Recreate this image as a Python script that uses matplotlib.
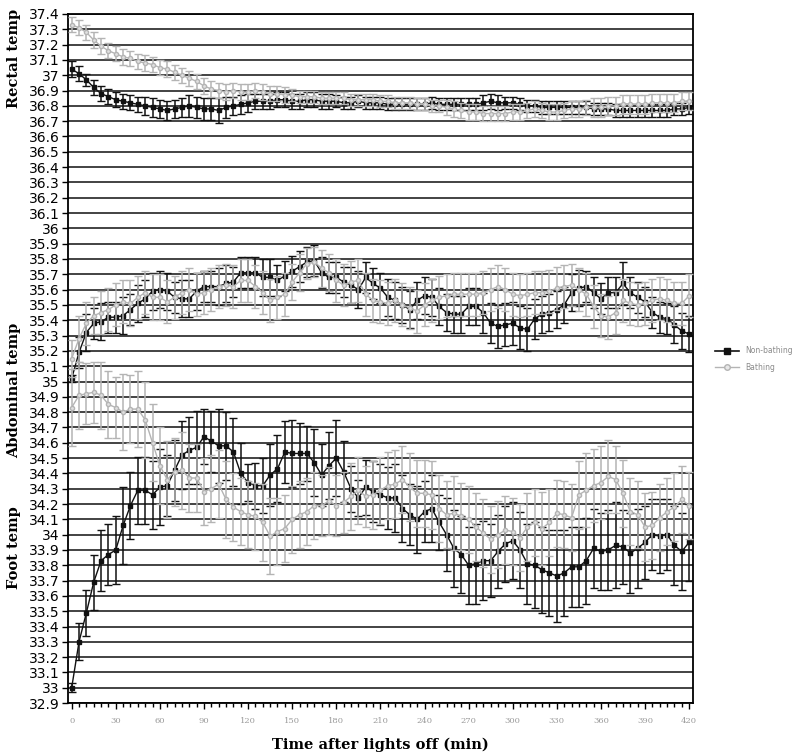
import matplotlib
matplotlib.use("Agg")
import matplotlib.pyplot as plt
from matplotlib.lines import Line2D
from matplotlib.ticker import MultipleLocator, FuncFormatter

# minutes after lights off, one sample every 5 min
minutes = list(range(0, 425, 5))

rectal_non = [37.04, 37.01, 36.97, 36.92, 36.88, 36.86,
              36.84, 36.83, 36.82, 36.81, 36.80, 36.79,
              36.78, 36.77, 36.78, 36.79, 36.80, 36.79,
              36.78, 36.78, 36.77, 36.79, 36.80, 36.81,
              36.82, 36.83, 36.83, 36.83, 36.84, 36.84,
              36.83, 36.83, 36.84, 36.84, 36.83, 36.83,
              36.83, 36.82, 36.82, 36.83, 36.82, 36.82,
              36.82, 36.81, 36.81, 36.81, 36.81, 36.81,
              36.81, 36.82, 36.81, 36.81, 36.81, 36.81,
              36.81, 36.81, 36.82, 36.83, 36.82, 36.82,
              36.82, 36.81, 36.80, 36.80, 36.79, 36.79,
              36.79, 36.79, 36.79, 36.79, 36.79, 36.78,
              36.78, 36.78, 36.77, 36.77, 36.77, 36.77,
              36.77, 36.77, 36.77, 36.77, 36.78, 36.78,
              36.79]
rectal_non_err = [0.05, 0.05, 0.04, 0.05, 0.05, 0.05,
                  0.05, 0.05, 0.05, 0.05, 0.06, 0.06,
                  0.06, 0.06, 0.06, 0.06, 0.07, 0.07,
                  0.07, 0.07, 0.08, 0.07, 0.06, 0.06,
                  0.06, 0.05, 0.05, 0.05, 0.05, 0.05,
                  0.05, 0.05, 0.05, 0.05, 0.05, 0.05,
                  0.04, 0.04, 0.04, 0.04, 0.04, 0.04,
                  0.04, 0.04, 0.04, 0.04, 0.04, 0.04,
                  0.04, 0.04, 0.04, 0.04, 0.04, 0.04,
                  0.04, 0.04, 0.05, 0.05, 0.05, 0.04,
                  0.04, 0.04, 0.04, 0.04, 0.04, 0.04,
                  0.04, 0.04, 0.04, 0.04, 0.04, 0.04,
                  0.04, 0.04, 0.04, 0.04, 0.04, 0.04,
                  0.04, 0.04, 0.04, 0.04, 0.04, 0.04,
                  0.04]

rectal_bath = [37.33, 37.31, 37.28, 37.23, 37.19, 37.16,
               37.14, 37.12, 37.11, 37.09, 37.08, 37.07,
               37.05, 37.04, 37.02, 37.00, 36.98, 36.96,
               36.93, 36.91, 36.90, 36.89, 36.90, 36.89,
               36.89, 36.90, 36.89, 36.88, 36.88, 36.87,
               36.87, 36.86, 36.86, 36.86, 36.85, 36.85,
               36.85, 36.85, 36.84, 36.84, 36.84, 36.84,
               36.83, 36.83, 36.82, 36.82, 36.82, 36.81,
               36.81, 36.80, 36.80, 36.79, 36.78, 36.77,
               36.76, 36.76, 36.75, 36.75, 36.75, 36.75,
               36.76, 36.76, 36.77, 36.78, 36.77, 36.76,
               36.76, 36.77, 36.78, 36.78, 36.79, 36.79,
               36.79, 36.80, 36.80, 36.81, 36.81, 36.81,
               36.81, 36.82, 36.82, 36.82, 36.82, 36.83,
               36.83]
rectal_bath_err = [0.05, 0.05, 0.05, 0.05, 0.05, 0.05,
                   0.05, 0.05, 0.05, 0.05, 0.05, 0.05,
                   0.05, 0.05, 0.05, 0.05, 0.05, 0.05,
                   0.05, 0.05, 0.05, 0.05, 0.05, 0.05,
                   0.05, 0.05, 0.05, 0.05, 0.05, 0.05,
                   0.04, 0.04, 0.04, 0.04, 0.04, 0.04,
                   0.04, 0.04, 0.04, 0.04, 0.04, 0.04,
                   0.04, 0.04, 0.04, 0.04, 0.04, 0.04,
                   0.04, 0.04, 0.04, 0.05, 0.05, 0.05,
                   0.05, 0.05, 0.05, 0.05, 0.05, 0.05,
                   0.05, 0.05, 0.05, 0.05, 0.05, 0.05,
                   0.05, 0.05, 0.05, 0.05, 0.05, 0.06,
                   0.06, 0.06, 0.06, 0.06, 0.06, 0.06,
                   0.06, 0.06, 0.06, 0.06, 0.06, 0.06,
                   0.06]

abdo_non = [35.02, 35.19, 35.32, 35.38, 35.39, 35.42,
            35.42, 35.43, 35.47, 35.51, 35.54, 35.59,
            35.60, 35.59, 35.55, 35.54, 35.54, 35.59,
            35.62, 35.62, 35.62, 35.64, 35.65, 35.71,
            35.71, 35.71, 35.68, 35.68, 35.66, 35.69,
            35.72, 35.75, 35.78, 35.79, 35.71, 35.68,
            35.68, 35.65, 35.63, 35.60, 35.68, 35.64,
            35.61, 35.55, 35.53, 35.50, 35.47, 35.53,
            35.56, 35.55, 35.49, 35.45, 35.44, 35.44,
            35.49, 35.49, 35.45, 35.38, 35.36, 35.37,
            35.38, 35.35, 35.34, 35.41, 35.44, 35.45,
            35.47, 35.50, 35.58, 35.61, 35.62, 35.58,
            35.54, 35.58, 35.58, 35.64, 35.58, 35.55,
            35.52, 35.45, 35.42, 35.41, 35.37, 35.33,
            35.31]
abdo_non_err = [0.02, 0.10, 0.12, 0.10, 0.12, 0.10,
                0.10, 0.12, 0.10, 0.12, 0.12, 0.12,
                0.12, 0.12, 0.10, 0.12, 0.12, 0.12,
                0.10, 0.10, 0.12, 0.12, 0.10, 0.10,
                0.10, 0.10, 0.12, 0.12, 0.10, 0.10,
                0.10, 0.10, 0.10, 0.10, 0.10, 0.10,
                0.10, 0.10, 0.12, 0.12, 0.10, 0.10,
                0.10, 0.12, 0.12, 0.12, 0.12, 0.12,
                0.12, 0.12, 0.12, 0.12, 0.12, 0.12,
                0.12, 0.12, 0.13, 0.13, 0.14, 0.14,
                0.14, 0.14, 0.14, 0.13, 0.12, 0.12,
                0.12, 0.12, 0.12, 0.12, 0.10, 0.10,
                0.10, 0.10, 0.10, 0.14, 0.10, 0.10,
                0.10, 0.10, 0.10, 0.10, 0.12, 0.12,
                0.12]

abdo_bath = [35.15, 35.28, 35.38, 35.43, 35.45, 35.47,
             35.50, 35.52, 35.51, 35.55, 35.58, 35.55,
             35.55, 35.52, 35.55, 35.58, 35.60, 35.57,
             35.58, 35.60, 35.62, 35.63, 35.62, 35.66,
             35.66, 35.62, 35.58, 35.53, 35.55, 35.57,
             35.65, 35.71, 35.77, 35.78, 35.74, 35.71,
             35.66, 35.63, 35.65, 35.66, 35.57, 35.53,
             35.52, 35.51, 35.53, 35.50, 35.48, 35.46,
             35.50, 35.53, 35.55, 35.56, 35.57, 35.57,
             35.57, 35.57, 35.58, 35.60, 35.62, 35.60,
             35.57, 35.56, 35.57, 35.58, 35.58, 35.59,
             35.61, 35.62, 35.63, 35.60, 35.57, 35.49,
             35.43, 35.42, 35.45, 35.53, 35.51, 35.50,
             35.51, 35.53, 35.54, 35.53, 35.51, 35.51,
             35.56]
abdo_bath_err = [0.12, 0.15, 0.14, 0.12, 0.14, 0.14,
                 0.14, 0.14, 0.15, 0.14, 0.14, 0.15,
                 0.15, 0.14, 0.14, 0.14, 0.14, 0.14,
                 0.14, 0.14, 0.14, 0.14, 0.14, 0.14,
                 0.14, 0.14, 0.14, 0.14, 0.14, 0.14,
                 0.12, 0.12, 0.10, 0.10, 0.12, 0.12,
                 0.14, 0.14, 0.14, 0.14, 0.14, 0.14,
                 0.14, 0.14, 0.14, 0.14, 0.14, 0.14,
                 0.14, 0.14, 0.14, 0.14, 0.14, 0.14,
                 0.14, 0.14, 0.14, 0.14, 0.14, 0.14,
                 0.14, 0.14, 0.14, 0.14, 0.14, 0.14,
                 0.14, 0.14, 0.14, 0.14, 0.14, 0.14,
                 0.14, 0.14, 0.14, 0.14, 0.14, 0.14,
                 0.14, 0.14, 0.14, 0.14, 0.14, 0.14,
                 0.14]

foot_non = [33.00, 33.30, 33.49, 33.69, 33.83, 33.87,
            33.90, 34.06, 34.19, 34.29, 34.29, 34.26,
            34.31, 34.32, 34.42, 34.52, 34.55, 34.57,
            34.64, 34.61, 34.58, 34.58, 34.54, 34.40,
            34.34, 34.32, 34.32, 34.39, 34.43, 34.54,
            34.53, 34.53, 34.53, 34.47, 34.39, 34.45,
            34.50, 34.41, 34.30, 34.24, 34.31, 34.28,
            34.26, 34.24, 34.24, 34.17, 34.13, 34.10,
            34.15, 34.17, 34.08, 34.00, 33.91, 33.87,
            33.80, 33.81, 33.83, 33.83, 33.89, 33.94,
            33.96, 33.90, 33.81, 33.80, 33.77, 33.75,
            33.73, 33.75, 33.79, 33.79, 33.83, 33.91,
            33.89, 33.90, 33.93, 33.92, 33.88, 33.91,
            33.95, 34.00, 33.99, 34.00, 33.93, 33.89,
            33.95]
foot_non_err = [0.03, 0.12, 0.15, 0.18, 0.20, 0.20,
                0.22, 0.25, 0.22, 0.22, 0.22, 0.22,
                0.25, 0.20, 0.20, 0.22, 0.22, 0.24,
                0.18, 0.20, 0.24, 0.22, 0.22, 0.20,
                0.12, 0.15, 0.18, 0.20, 0.22, 0.20,
                0.22, 0.20, 0.18, 0.22, 0.20, 0.22,
                0.25, 0.20, 0.15, 0.12, 0.18, 0.20,
                0.20, 0.20, 0.22, 0.22, 0.20, 0.22,
                0.20, 0.22, 0.18, 0.24, 0.25, 0.25,
                0.25, 0.26, 0.26, 0.24, 0.24, 0.25,
                0.25, 0.25, 0.26, 0.28, 0.28, 0.28,
                0.30, 0.28, 0.26, 0.26, 0.28, 0.26,
                0.25, 0.26, 0.28, 0.24, 0.26, 0.26,
                0.24, 0.23, 0.24, 0.23, 0.26, 0.25,
                0.25]

foot_bath = [34.83, 34.91, 34.92, 34.93, 34.91, 34.85,
             34.83, 34.80, 34.82, 34.82, 34.75, 34.60,
             34.45, 34.36, 34.41, 34.42, 34.37, 34.37,
             34.28, 34.30, 34.33, 34.23, 34.18, 34.15,
             34.13, 34.12, 34.08, 33.99, 34.02, 34.04,
             34.10, 34.13, 34.15, 34.19, 34.19, 34.22,
             34.19, 34.21, 34.25, 34.29, 34.25, 34.26,
             34.29, 34.32, 34.33, 34.36, 34.31, 34.27,
             34.27, 34.26, 34.17, 34.13, 34.14, 34.12,
             34.10, 34.05, 34.01, 33.97, 34.00, 34.03,
             34.02, 33.98, 34.05, 34.08, 34.04, 34.08,
             34.14, 34.13, 34.11, 34.26, 34.29, 34.32,
             34.34, 34.38, 34.36, 34.27, 34.15, 34.13,
             34.05, 34.06, 34.11, 34.15, 34.18, 34.23,
             34.19]
foot_bath_err = [0.25, 0.22, 0.20, 0.20, 0.22, 0.22,
                 0.20, 0.25, 0.22, 0.25, 0.25, 0.25,
                 0.25, 0.25, 0.22, 0.25, 0.22, 0.22,
                 0.22, 0.22, 0.22, 0.25, 0.22, 0.22,
                 0.22, 0.22, 0.25, 0.25, 0.22, 0.22,
                 0.22, 0.22, 0.22, 0.22, 0.20, 0.22,
                 0.20, 0.20, 0.22, 0.22, 0.20, 0.22,
                 0.22, 0.22, 0.22, 0.22, 0.22, 0.22,
                 0.22, 0.22, 0.22, 0.22, 0.24, 0.22,
                 0.22, 0.22, 0.22, 0.22, 0.22, 0.22,
                 0.22, 0.22, 0.22, 0.22, 0.24, 0.22,
                 0.22, 0.22, 0.22, 0.22, 0.24, 0.24,
                 0.24, 0.24, 0.22, 0.22, 0.22, 0.22,
                 0.22, 0.22, 0.22, 0.22, 0.22, 0.22,
                 0.22]

BLACK = "#111111"
GREY = "#b4b4b4"

fig = plt.figure(figsize=(8.0, 7.56), dpi=100)
ax = fig.add_axes([0.085, 0.070, 0.781, 0.9115])

# horizontal grid lines every 0.1 degree
ax.set_ylim(32.9, 37.4)
ax.yaxis.set_major_locator(MultipleLocator(0.1))
ax.yaxis.set_major_formatter(FuncFormatter(lambda v, p: "%g" % round(v, 1)))
ax.grid(axis="y", color="#222222", linewidth=1.2)
ax.set_axisbelow(True)

groups = [(rectal_non, rectal_non_err, rectal_bath, rectal_bath_err),
          (abdo_non, abdo_non_err, abdo_bath, abdo_bath_err),
          (foot_non, foot_non_err, foot_bath, foot_bath_err)]

for nb, nb_err, b, b_err in groups:
    ax.errorbar(minutes, nb, yerr=nb_err, color=BLACK, ecolor=BLACK,
                elinewidth=1.1, capsize=2.6, capthick=1.0, linewidth=1.0,
                marker="s", markersize=3, mfc=BLACK, mec=BLACK, zorder=3)
    ax.errorbar(minutes, b, yerr=b_err, color=GREY, ecolor=GREY,
                elinewidth=1.1, capsize=2.6, capthick=1.0, linewidth=1.0,
                marker="o", markersize=3, mfc="#e0e0e0", mec=GREY, zorder=4)

ax.set_xlim(-2.5, 422.5)
ax.set_xticks(range(0, 421, 30))
ax.xaxis.set_minor_locator(MultipleLocator(5))
ax.tick_params(axis="x", which="major", length=4, width=1, labelsize=6,
               labelcolor="#9a9a9a", pad=6)
ax.tick_params(axis="x", which="minor", length=3, width=1)
for lab in ax.get_xticklabels():
    lab.set_family("DejaVu Serif")
ax.tick_params(axis="y", length=4, width=1, labelsize=10, pad=2)

for s in ax.spines.values():
    s.set_color("black")
    s.set_linewidth(1.3)

ax.set_xlabel("Time after lights off (min)", family="DejaVu Serif",
              fontweight="bold", fontsize=10.5, labelpad=9)

fig.text(0.018, 1 - 58 / 756, "Rectal temp", rotation=90, ha="center",
         va="center", family="DejaVu Serif", fontweight="bold", fontsize=10.5)
fig.text(0.018, 1 - 390 / 756, "Abdominal temp", rotation=90, ha="center",
         va="center", family="DejaVu Serif", fontweight="bold", fontsize=10.5)
fig.text(0.018, 1 - 548 / 756, "Foot temp", rotation=90, ha="center",
         va="center", family="DejaVu Serif", fontweight="bold", fontsize=10.5)

# legend entries without the error bar glyph, like the original
handles = [Line2D([], [], color=BLACK, lw=1.2, marker="s", ms=4,
                  mfc=BLACK, mec=BLACK),
           Line2D([], [], color=GREY, lw=1.0, marker="o", ms=4,
                  mfc="#e8e8e8", mec=GREY)]
leg = fig.legend(handles, ["Non-bathing", "Bathing"], loc="center left",
                 bbox_to_anchor=(0.885, 0.525), frameon=False, fontsize=5.5,
                 handlelength=3.2, labelspacing=1.0)
for t in leg.get_texts():
    t.set_color("#8a8a8a")

fig.savefig("out.png", dpi=100)
